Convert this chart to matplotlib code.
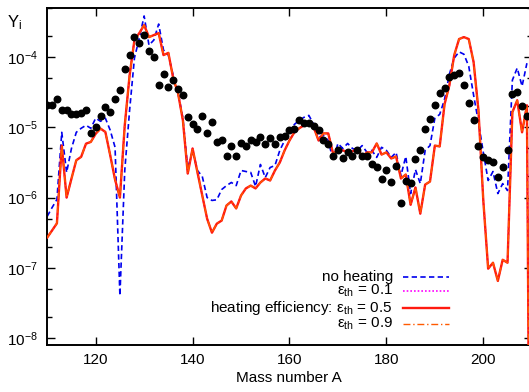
import numpy as np
import matplotlib
matplotlib.use("Agg")
import matplotlib.pyplot as plt
from matplotlib.ticker import LogLocator, FixedLocator, NullFormatter
from matplotlib.lines import Line2D

plt.rcParams["font.family"] = ["Liberation Sans", "DejaVu Sans"]
plt.rcParams["mathtext.fontset"] = "custom"
plt.rcParams["mathtext.rm"] = "Liberation Sans"
plt.rcParams["mathtext.it"] = "Liberation Sans:italic"
plt.rcParams["mathtext.bf"] = "Liberation Sans:bold"

# ----------------------------------------------------------------------
# data (one value per mass number)
# ----------------------------------------------------------------------
mass_solar = list(range(110, 210))
y_solar = [
    2.1e-5, 2.1e-5, 2.5e-5, 1.78e-5, 1.78e-5, 1.53e-5, 1.53e-5, 1.62e-5, 1.75e-5, 8.3e-6,
    1.0e-5, 1.44e-5, 1.95e-5, 1.67e-5, 2.5e-5, 3.4e-5, 6.7e-5, 1.09e-4, 1.95e-4, 1.57e-4,
    2.1e-4, 1.22e-4, 1.01e-4, 3.98e-5, 5.7e-5, 3.77e-5, 4.7e-5, 3.57e-5, 2.87e-5, 1.4e-5,
    1.13e-5, 9.6e-6, 1.44e-5, 8.3e-6, 1.18e-5, 6.2e-6, 6.7e-6, 3.9e-6, 5.5e-6, 3.9e-6,
    6.0e-6, 5.4e-6, 6.7e-6, 6.2e-6, 7.4e-6, 5.7e-6, 7.0e-6, 5.7e-6, 7.3e-6, 7.5e-6,
    9.1e-6, 9.6e-6, 1.29e-5, 1.15e-5, 1.15e-5, 1.06e-5, 9.1e-6, 6.7e-6, 5.85e-6, 3.94e-6,
    4.7e-6, 3.7e-6, 4.5e-6, 3.94e-6, 4.7e-6, 3.94e-6, 3.85e-6, 3.03e-6, 2.71e-6, 1.85e-6,
    2.51e-6, 1.66e-6, 2.8e-6, 8.4e-7, 1.71e-6, 1.6e-6, 3.57e-6, 4.7e-6, 9.4e-6, 1.3e-5,
    2.11e-5, 3.09e-5, 3.64e-5, 5.13e-5, 5.5e-5, 5.85e-5, 3.98e-5, 2.22e-5, 1.26e-5, 5.5e-6,
    3.77e-6, 3.38e-6, 3.19e-6, 1.95e-6, 2.71e-6, 4.7e-6, 3.03e-5, 3.19e-5, 2.0e-5, 1.44e-5,
]

mass_noheat = list(range(110, 210))
y_noheat = [
    5.4e-7, 7.2e-7, 9.4e-7, 8.5e-6, 2.28e-6, 5.0e-6, 8.5e-6, 9.7e-6, 1.07e-5, 9.7e-6,
    1.35e-5, 1.22e-5, 1.35e-5, 9.1e-6, 5.2e-6, 4.0e-8, 2.43e-6, 1.75e-5, 9.7e-5, 1.87e-4,
    3.86e-4, 1.48e-4, 1.75e-4, 2.96e-4, 1.26e-4, 1.07e-4, 5.5e-5, 3.16e-5, 1.35e-5, 2.6e-6,
    4.7e-6, 2.43e-6, 2.0e-6, 1.0e-6, 9.1e-7, 9.3e-7, 1.3e-6, 1.48e-6, 1.64e-6, 1.48e-6,
    2.43e-6, 2.35e-6, 2.28e-6, 1.44e-6, 2.96e-6, 1.93e-6, 2.68e-6, 2.86e-6, 4.7e-6, 6.5e-6,
    7.9e-6, 1.1e-5, 1.26e-5, 1.39e-5, 1.48e-5, 1.1e-5, 7.2e-6, 7.7e-6, 6.5e-6, 3.38e-6,
    5.9e-6, 5.0e-6, 5.9e-6, 5.0e-6, 4.7e-6, 5.5e-6, 4.4e-6, 4.7e-6, 3.73e-6, 5.2e-6,
    4.7e-6, 3.73e-6, 4.4e-6, 2.06e-6, 3.85e-6, 1.14e-6, 2.5e-6, 1.58e-6, 4.7e-6, 5.5e-6,
    1.35e-5, 1.53e-5, 2.5e-5, 5.7e-5, 9.7e-5, 1.19e-4, 1.1e-4, 7.4e-5, 2.87e-5, 1.18e-5,
    4.4e-6, 1.75e-6, 2.35e-6, 1.14e-6, 1.58e-6, 1.26e-6, 4.7e-5, 7.0e-5, 3.85e-5, 8.2e-5,
]

mass_heat = list(range(110, 211))
y_eps05 = [
    2.7e-7, 3.4e-7, 4.3e-7, 5.5e-6, 1.0e-6, 1.86e-6, 3.4e-6, 3.8e-6, 5.85e-6, 6.2e-6,
    8.1e-6, 9.6e-6, 8.6e-6, 4.0e-6, 1.8e-6, 1.0e-6, 1.07e-5, 5.5e-5, 1.75e-4, 2.2e-4,
    2.86e-4, 1.93e-4, 2.06e-4, 2.2e-4, 1.07e-4, 1.15e-4, 5.0e-5, 3.06e-5, 1.26e-5, 2.2e-6,
    5.0e-6, 2.3e-6, 1.07e-6, 5.0e-7, 3.16e-7, 4.25e-7, 4.7e-7, 7.7e-7, 8.8e-7, 7.0e-7,
    1.07e-6, 1.35e-6, 1.48e-6, 1.35e-6, 1.64e-6, 1.87e-6, 1.75e-6, 2.43e-6, 3.16e-6, 4.7e-6,
    6.5e-6, 8.5e-6, 9.7e-6, 1.07e-5, 1.14e-5, 1.0e-5, 6.5e-6, 8.2e-6, 8.2e-6, 4.25e-6,
    4.7e-6, 4.7e-6, 4.43e-6, 4.55e-6, 4.97e-6, 3.85e-6, 4.4e-6, 4.4e-6, 5.9e-6, 4.1e-6,
    4.4e-6, 3.6e-6, 3.85e-6, 1.87e-6, 2.13e-6, 7.9e-7, 1.39e-6, 5.9e-7, 1.53e-6, 1.69e-6,
    5.5e-6, 5.35e-6, 2.13e-5, 3.98e-5, 1.07e-4, 1.81e-4, 1.93e-4, 1.81e-4, 8.5e-5, 1.75e-5,
    9.1e-7, 9.7e-8, 1.18e-7, 6.5e-8, 1.3e-7, 1.18e-7, 1.64e-5, 2.43e-5, 8.5e-6, 2.06e-5,
    1e-15,
]
# the eps = 0.1 and 0.9 curves lie on top of the 0.5 curve within the line width
y_eps01 = list(y_eps05)
y_eps09 = list(y_eps05)

legend_labels = [
    "no heating",
    r"ε$_{\mathrm{th}}$ = 0.1",
    r"heating efficiency: ε$_{\mathrm{th}}$ = 0.5",
    r"ε$_{\mathrm{th}}$ = 0.9",
]
x_ticks = [120, 140, 160, 180, 200]

# ----------------------------------------------------------------------
# plot
# ----------------------------------------------------------------------
fig = plt.figure(figsize=(5.29, 3.92), dpi=100)
ax = fig.add_axes([46.5 / 529, 47 / 392, 485.25 / 529, 337 / 392])

styles = [
    dict(color="#0000ee", ls=(0, (3.2, 2.0)), lw=1.2, zorder=2),
    dict(color="#ff00ff", ls=(0, (1, 1.2)), lw=1.2, zorder=3),
    dict(color="#ff1a10", ls="-", lw=1.7, zorder=4),
    dict(color="#ff5a00", ls=(0, (5, 2, 1, 2)), lw=1.0, zorder=5),
]
series = [
    (mass_noheat, y_noheat),
    (mass_heat, y_eps01),
    (mass_heat, y_eps05),
    (mass_heat, y_eps09),
]
for (xs, ys), st in zip(series, styles):
    ax.plot(xs, ys, **st)

ax.plot(mass_solar, y_solar, "o", color="black", ms=4.7, mec="black", zorder=6)

ax.set_yscale("log")
ax.set_xlim(109.85, 210)
ax.set_ylim(10 ** -8.1, 10 ** -3.3)

ax.xaxis.set_major_locator(FixedLocator(x_ticks))
ax.yaxis.set_major_locator(LogLocator(base=10, numticks=20))
ax.yaxis.set_minor_locator(LogLocator(base=10, subs=(2.0, 5.0), numticks=20))
ax.yaxis.set_minor_formatter(NullFormatter())

ax.tick_params(which="both", direction="in", top=True, right=True,
               labelsize=11, width=1.0, pad=6)
ax.tick_params(which="major", length=6)
ax.tick_params(which="minor", length=3.5)
for sp in ax.spines.values():
    sp.set_linewidth(1.4)

ax.set_xlabel("Mass number A", fontsize=11, labelpad=3)
fig.text(7 / 529, 1 - 27 / 392, r"Y$_{\mathrm{i}}$", fontsize=12, va="baseline")

# gnuplot-style key: text right-aligned, sample line to its right
row_y = [0.2027, 0.161, 0.1107, 0.0623]
for lab, yy, st in zip(legend_labels, row_y, styles):
    ax.text(0.714, yy, lab, transform=ax.transAxes, ha="right", va="center",
            fontsize=11, zorder=7)
    ax.add_line(Line2D([0.735, 0.830], [yy, yy], transform=ax.transAxes,
                       color=st["color"], ls=st["ls"], lw=st["lw"], zorder=7))

fig.savefig("out.png", dpi=100)
